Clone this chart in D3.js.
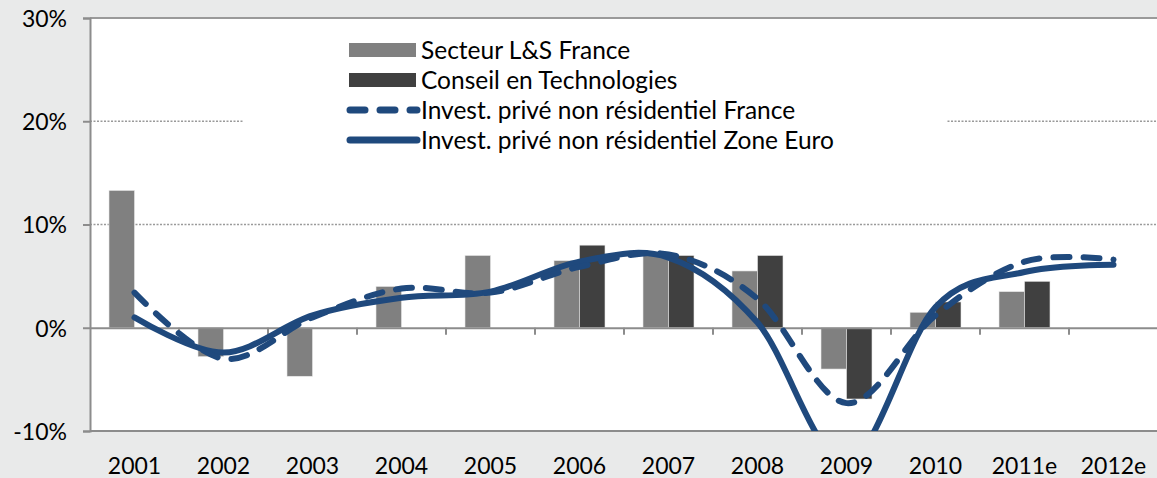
<!DOCTYPE html>
<html>
<head>
<meta charset="utf-8">
<script src="https://cdn.jsdelivr.net/npm/d3@7"></script>
<style>
  body { margin: 0; background: #e9eaea; }
  text { font-family: Lato, "Open Sans", sans-serif; fill: #000; }
</style>
</head>
<body>
<div id="chart"></div>
<script>
let width = 1157,
    height = 478;

// data (% change)
const years = ["2001", "2002", "2003", "2004", "2005", "2006", "2007", "2008", "2009", "2010", "2011e", "2012e"];
const secteurLS = [13.3, -2.8, -4.7, 4.0, 7.0, 6.5, 7.0, 5.5, -4.0, 1.5, 3.5, null];
const conseilTech = [null, null, null, null, null, 8.0, 7.0, 7.0, -6.9, 2.5, 4.5, null];
const investFrance = [3.4, -3.0, 1.0, 3.8, 3.4, 5.9, 7.1, 2.8, -7.3, 1.2, 6.4, 6.6];
const investEuro = [1.0, -2.4, 1.2, 2.9, 3.5, 6.4, 6.8, 0.5, -13, 2.0, 5.4, 6.1];
const yTicks = [-10, 0, 10, 20, 30];

const margin = {left: 90, right: 0, top: 18, bottom: 47};
const blue = "#1f497d";

const svg = d3.select("#chart")
  .append("svg")
  .attr("width", width)
  .attr("height", height);

const x = d3.scaleBand()
  .domain(years)
  .range([margin.left, 1158]);

const y = d3.scaleLinear()
  .domain([-10, 30])
  .range([height - margin.bottom, margin.top]);

// plot area
svg.append("rect")
  .attr("x", margin.left)
  .attr("y", y(30))
  .attr("width", 1158 - margin.left)
  .attr("height", y(-10) - y(30))
  .attr("fill", "#fff");

svg.append("defs").append("clipPath")
  .attr("id", "plot")
  .append("rect")
  .attr("x", margin.left)
  .attr("y", y(30))
  .attr("width", 1158 - margin.left)
  .attr("height", y(-10) - y(30));

// gridlines
svg.append("g")
  .selectAll("line")
  .data([10, 20])
  .enter().append("line")
  .attr("x1", margin.left)
  .attr("x2", 1158)
  .attr("y1", d => y(d))
  .attr("y2", d => y(d))
  .attr("stroke", "#9a9a9a")
  .attr("stroke-width", 1.5)
  .attr("stroke-dasharray", "2,1.5");

svg.append("line")
  .attr("x1", margin.left).attr("x2", 1158)
  .attr("y1", y(30)).attr("y2", y(30))
  .attr("stroke", "#9a9a9a")
  .attr("stroke-width", 2);

// bars
const bw = 25.5;
const barData = [];
years.forEach(function (yr, i) {
  if (secteurLS[i] != null) barData.push({year: yr, v: secteurLS[i], off: -bw, fill: "#808080"});
  if (conseilTech[i] != null) barData.push({year: yr, v: conseilTech[i], off: 0, fill: "#404040"});
});

svg.append("g")
  .selectAll("rect")
  .data(barData)
  .enter().append("rect")
  .attr("x", d => x(d.year) + x.bandwidth() / 2 + d.off)
  .attr("y", d => y(Math.max(0, d.v)))
  .attr("width", bw)
  .attr("height", d => Math.abs(y(d.v) - y(0)))
  .attr("fill", d => d.fill)
  .attr("stroke", "#e8e8e8")
  .attr("stroke-width", 0.6);

// axes
const yAxis = svg.append("g")
  .attr("transform", "translate(" + margin.left + ",0)")
  .call(d3.axisLeft(y).tickValues(yTicks).tickSize(7).tickPadding(16).tickFormat(d => d + "%"));
yAxis.select(".domain").attr("stroke", "#8c8c8c").attr("stroke-width", 2);
yAxis.selectAll(".tick line").attr("stroke", "#8c8c8c").attr("stroke-width", 2);
yAxis.selectAll("text").style("font-size", "23px").attr("dy", "0.36em");

svg.append("line")
  .attr("x1", margin.left).attr("x2", 1158)
  .attr("y1", y(-10)).attr("y2", y(-10))
  .attr("stroke", "#8c8c8c")
  .attr("stroke-width", 2);

// zero line with category ticks
const zero = svg.append("g")
  .attr("transform", "translate(0," + y(0) + ")")
  .call(d3.axisBottom(x).tickSize(0).tickFormat(""));
zero.select(".domain").attr("stroke", "#8c8c8c").attr("stroke-width", 2);
zero.selectAll(".tick").remove();
zero.selectAll(".sep")
  .data(years.slice(1))
  .enter().append("line")
  .attr("x1", d => x(d)).attr("x2", d => x(d))
  .attr("y1", 0).attr("y2", 7)
  .attr("stroke", "#8c8c8c")
  .attr("stroke-width", 2);

// category labels
svg.append("g")
  .selectAll("text")
  .data(years)
  .enter().append("text")
  .attr("x", d => x(d) + x.bandwidth() / 2)
  .attr("y", 474)
  .attr("text-anchor", "middle")
  .style("font-size", "23px")
  .text(d => d);

// smoothed lines
const line = d3.line()
  .x((d, i) => x(years[i]) + x.bandwidth() / 2)
  .y(d => y(d))
  .curve(d3.curveCardinal.tension(0));

const lines = svg.append("g").attr("clip-path", "url(#plot)");
lines.append("path")
  .attr("d", line(investEuro))
  .attr("fill", "none")
  .attr("stroke", blue)
  .attr("stroke-width", 6)
  .attr("stroke-linecap", "round");
lines.append("path")
  .attr("d", line(investFrance))
  .attr("fill", "none")
  .attr("stroke", blue)
  .attr("stroke-width", 6)
  .attr("stroke-linecap", "round")
  .attr("stroke-dasharray", "16,14");

// legend
const legend = svg.append("g");
legend.append("rect")
  .attr("x", 243).attr("y", 32)
  .attr("width", 704).attr("height", 124)
  .attr("fill", "#fff");

const legendItems = [
  {label: "Secteur L&S France", type: "rect", color: "#808080"},
  {label: "Conseil en Technologies", type: "rect", color: "#404040"},
  {label: "Invest. privé non résidentiel France", type: "dash"},
  {label: "Invest. privé non résidentiel Zone Euro", type: "line"}
];

const item = legend.selectAll(".item")
  .data(legendItems)
  .enter().append("g")
  .attr("transform", (d, i) => "translate(0," + (50 + i * 30) + ")");

item.filter(d => d.type == "rect").append("rect")
  .attr("x", 349).attr("y", -7)
  .attr("width", 67).attr("height", 14)
  .attr("fill", d => d.color);

item.filter(d => d.type != "rect").append("line")
  .attr("x1", 350).attr("x2", 417)
  .attr("stroke", blue)
  .attr("stroke-width", 7)
  .attr("stroke-linecap", "round")
  .attr("stroke-dasharray", d => d.type == "dash" ? "15,15" : null);

item.append("text")
  .attr("x", 421)
  .attr("dy", "0.36em")
  .style("font-size", "24.5px")
  .text(d => d.label);
</script>
</body>
</html>
